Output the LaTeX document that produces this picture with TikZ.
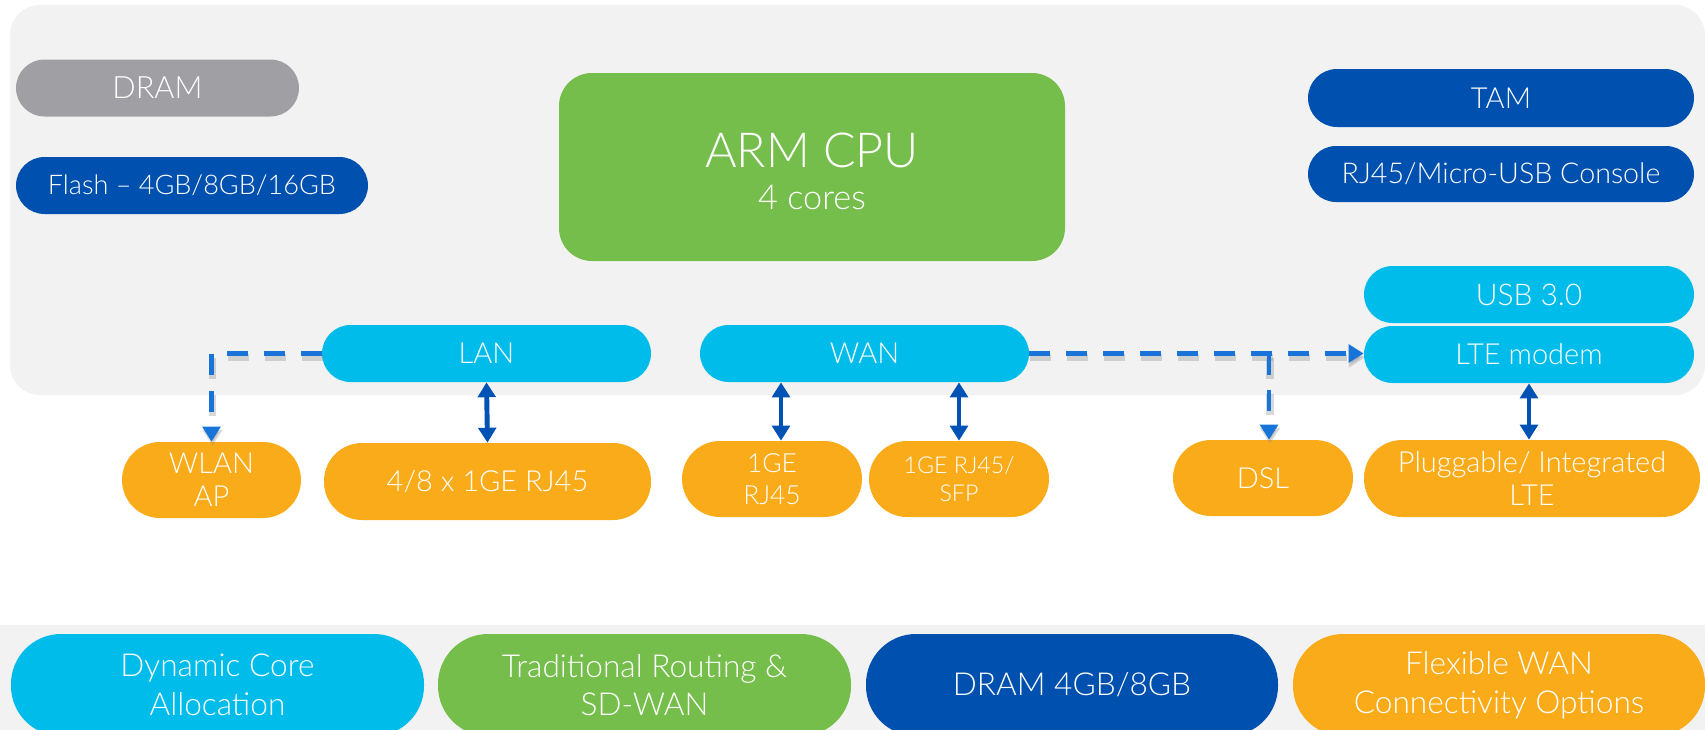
\documentclass[tikz,border=0pt]{standalone}
\usepackage{fontspec}
\setmainfont{Lato Light}
\usetikzlibrary{arrows.meta}
\definecolor{cyanC}{HTML}{00BCEB}
\definecolor{navyC}{HTML}{0051AF}
\definecolor{greenC}{HTML}{75BE4B}
\definecolor{orangeC}{HTML}{FAAB1A}
\definecolor{grayC}{HTML}{A0A0A4}
\definecolor{panelC}{HTML}{F2F2F2}
\definecolor{dashC}{HTML}{1874D8}
\definecolor{solidC}{HTML}{0052B4}
\def\u{*0.02cm}
\newcommand\myfs[2]{\fontsize{#1}{#2}\selectfont}
\tikzset{
  pill/.style 2 args={fill=#1, rounded corners=#2\u, text=white, inner sep=0pt, align=center},
  dbl/.style={draw=solidC, line width=2.8pt, {Triangle[width=10pt,length=8.5pt]}-{Triangle[width=10pt,length=8.5pt]}},
  dsh/.style={draw=dashC, line width=2.6pt, dash pattern=on 12pt off 9pt, -{Triangle[width=10pt,length=8.5pt]}},
  dshadow/.style={draw=black!50, opacity=0.3, line width=4pt, dash pattern=on 12pt off 9pt, -{Triangle[width=11pt,length=9pt]}}
}
\begin{document}
\begin{tikzpicture}[x=0.02cm,y=-0.02cm]
\useasboundingbox (0,0) rectangle (1705,730);
\fill[panelC, rounded corners=30\u] (10,5) rectangle (1705,395);
\fill[panelC] (0,625) rectangle (1705,730);

% upper panel nodes
\node[pill={grayC}{28.5}, minimum width=283\u, minimum height=57\u, font=\myfs{17.5}{20}] (dram) at (157.5,88) {DRAM};
\node[pill={navyC}{28.5}, minimum width=352\u, minimum height=57\u, font=\myfs{15.4}{19}] (flash) at (192,185.5) {Flash – 4GB/8GB/16GB};
\node[pill={greenC}{33}, minimum width=506\u, minimum height=188\u, font=\myfs{27.5}{24}] (cpu) at (812,167) {\rule{0pt}{25pt}ARM CPU\\\myfs{19.5}{23.5}4 cores};
\node[pill={navyC}{29}, minimum width=386\u, minimum height=58\u, font=\myfs{16.5}{19}] (tam) at (1501,98) {TAM};
\node[pill={navyC}{28}, minimum width=386\u, minimum height=56\u, font=\myfs{16.3}{19}] (console) at (1501,174) {RJ45/Micro-USB Console};
\node[pill={cyanC}{28.5}, minimum width=330\u, minimum height=57\u, font=\myfs{17}{19}] (usb) at (1529,294.5) {USB 3.0};
\node[pill={cyanC}{28.5}, minimum width=330\u, minimum height=57\u, font=\myfs{16.5}{19}] (lte) at (1529,354.5) {LTE modem};
\node[pill={cyanC}{28.5}, minimum width=329\u, minimum height=57\u, font=\myfs{16.5}{19}] (lan) at (486.5,353.5) {LAN};
\node[pill={cyanC}{28.5}, minimum width=329\u, minimum height=57\u, font=\myfs{16.5}{19}] (wan) at (864.5,353.5) {WAN};

% lower interface nodes
\node[pill={orangeC}{38}, minimum width=179\u, minimum height=76\u, font=\myfs{16.5}{19}] (wlan) at (211.5,480) {WLAN\\AP};
\node[pill={orangeC}{38}, minimum width=327\u, minimum height=77\u, font=\myfs{16.5}{19}] (ge48) at (487.5,481.5) {4/8 x 1GE RJ45};
\node[pill={orangeC}{38}, minimum width=180\u, minimum height=76\u, font=\myfs{15}{18}] (ge1) at (772,479) {1GE\\RJ45};
\node[pill={orangeC}{38}, minimum width=180\u, minimum height=76\u, font=\myfs{13.2}{16}] (sfp) at (959,479) {1GE RJ45/\\SFP};
\node[pill={orangeC}{38}, minimum width=180\u, minimum height=76\u, font=\myfs{16.5}{19}] (dsl) at (1263,478) {DSL};
\node[pill={orangeC}{38}, minimum width=336\u, minimum height=77\u, font=\myfs{16.5}{19}] (plug) at (1532,478.5) {Pluggable/ Integrated\\LTE};

% connectors
\draw[dbl] (lan.south) -- (ge48.north);
\draw[dbl] (781,0 |- wan.south) -- (781,0 |- ge1.north);
\draw[dbl] (sfp.north |- wan.south) -- (sfp.north);
\draw[dbl] (lte.south) -- (lte.south |- plug.north);

\draw[dshadow] ([shift={(1,4)}]lan.west) -| ([shift={(1,4)}]wlan.north);
\draw[dsh] (lan.west) -| (wlan.north);
\draw[dshadow] ([shift={(1,4)}]wan.east) -- ([shift={(1,4)}]wan.east -| lte.west);
\draw[dsh] (wan.east) -- (wan.east -| lte.west);
\draw[dshadow] ([shift={(1,4)}]1269,0 |- wan.east) -- ([shift={(1,4)}]1269,0 |- dsl.north);
\draw[dsh] (1269,0 |- wan.east) -- (1269,0 |- dsl.north);

% bottom band
\begin{scope}
\clip (0,0) rectangle (1705,730);
\node[pill={cyanC}{50}, minimum width=413\u, minimum height=102\u, font=\myfs{18}{22}] (b1) at (217.5,685) {Dynamic Core\\Allocation};
\node[pill={greenC}{50}, minimum width=413\u, minimum height=102\u, font=\myfs{18}{22}] (b2) at (644.5,685) {Traditional Routing \&\\SD-WAN};
\node[pill={navyC}{50}, minimum width=412\u, minimum height=102\u, font=\myfs{18}{22}] (b3) at (1072,685) {DRAM 4GB/8GB};
\node[pill={orangeC}{50}, minimum width=412\u, minimum height=102\u, font=\myfs{18}{22}] (b4) at (1499,685) {Flexible WAN\\Connectivity Options};
\end{scope}
\end{tikzpicture}
\end{document}
